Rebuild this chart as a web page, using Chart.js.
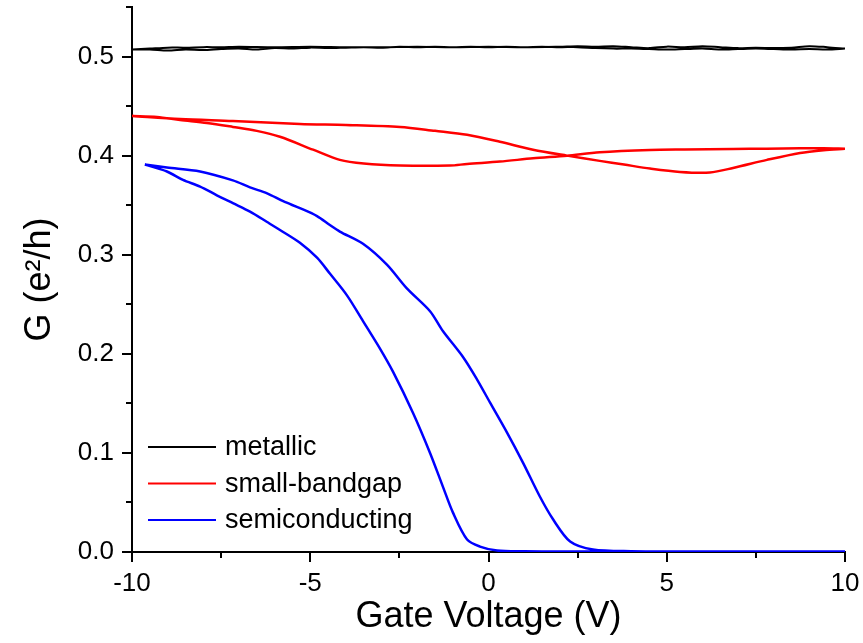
<!DOCTYPE html>
<html>
<head>
<meta charset="utf-8">
<script src="https://cdn.jsdelivr.net/npm/chart.js@4/dist/chart.umd.min.js"></script>
<style>
  html, body { margin: 0; padding: 0; background: #fff; }
  #wrap { width: 863px; height: 643px; }
</style>
</head>
<body>
<div id="wrap"><canvas id="gChart"></canvas></div>
<script>
// metallic: sweep up then back (two almost overlapping traces)
const metalUpX = [-10, -9.5, -9, -8.5, -8, -7.5, -7, -6.5, -6, -5.5, -5, -4.5, -4, -3.5, -3, -2.5, -2, -1.5, -1, -0.5, 0, 0.5, 1, 1.5, 2, 2.5, 3, 3.5, 4, 4.5, 5, 5.5, 6, 6.5, 7, 7.5, 8, 8.5, 9, 9.5, 10];
const metalUpG = [0.507, 0.507, 0.506, 0.507, 0.5065, 0.5075, 0.508, 0.507, 0.5085, 0.508, 0.509, 0.5085, 0.509, 0.5095, 0.509, 0.510, 0.5095, 0.510, 0.5095, 0.510, 0.5095, 0.510, 0.5095, 0.510, 0.5095, 0.5095, 0.5085, 0.508, 0.508, 0.5075, 0.507, 0.5075, 0.508, 0.507, 0.5075, 0.508, 0.5075, 0.507, 0.5075, 0.507, 0.508];
const metalDownX = [10, 9.5, 9, 8.5, 8, 7.5, 7, 6.5, 6, 5.5, 5, 4.5, 4, 3.5, 3, 2.5, 2, 1, 0, -1, -2, -3, -4, -5, -6, -7, -7.5, -8, -8.5, -9, -9.5, -10];
const metalDownG = [0.508, 0.5095, 0.5105, 0.509, 0.5085, 0.509, 0.5085, 0.5095, 0.5105, 0.5095, 0.510, 0.5085, 0.5095, 0.5105, 0.510, 0.5105, 0.510, 0.5095, 0.510, 0.5095, 0.510, 0.5095, 0.5095, 0.510, 0.5095, 0.510, 0.5095, 0.5095, 0.509, 0.509, 0.508, 0.507];

// small-bandgap
const smallUpX = [-10, -9.3, -8.65, -7.9, -7.17, -6.5, -5.85, -4.92, -4.17, -3.5, -2.48, -1.08, -0.6, 0.32, 1.25, 2.2, 3.12, 4.53, 5.5, 6.86, 7.8, 8.74, 9.4, 10];
const smallUpG = [0.440, 0.439, 0.436, 0.433, 0.429, 0.425, 0.419, 0.406, 0.3957, 0.392, 0.390, 0.390, 0.3916, 0.394, 0.3973, 0.400, 0.4034, 0.4057, 0.4062, 0.4067, 0.407, 0.4075, 0.4075, 0.407];
const smallDownX = [10, 9.4, 8.74, 7.81, 6.86, 6.21, 5.37, 4.53, 3.8, 3.12, 2.2, 1.25, 0.32, -0.6, -1.5, -2.48, -4, -5.29, -7.17, -8.65, -10];
const smallDownG = [0.407, 0.4055, 0.4027, 0.3957, 0.3876, 0.383, 0.3836, 0.387, 0.391, 0.3947, 0.400, 0.406, 0.414, 0.421, 0.425, 0.429, 0.431, 0.432, 0.435, 0.437, 0.440];

// semiconducting
const semiUpX = [-9.64, -9.02, -8.57, -8.09, -7.62, -7.17, -6.69, -6.21, -5.76, -5.29, -4.81, -4.45, -3.97, -3.52, -3.04, -2.68, -2.12, -1.64, -1.28, -1.0, -0.6, -0.24, 0.24, 1, 2, 4, 6, 8, 10];
const semiUpG = [0.391, 0.384, 0.3755, 0.3688, 0.360, 0.352, 0.3435, 0.333, 0.323, 0.312, 0.297, 0.281, 0.259, 0.233, 0.205, 0.182, 0.1406, 0.100, 0.066, 0.040, 0.0126, 0.0055, 0.0015, 0.0007, 0.0005, 0.0004, 0.0004, 0.0004, 0.0004];
const semiDownX = [10, 8, 6, 4, 2.93, 2.29, 1.81, 1.44, 0.97, 0.52, 0.04, -0.32, -0.72, -1.28, -1.64, -2.29, -2.85, -3.52, -4.17, -4.45, -4.81, -5.29, -5.76, -6.21, -6.69, -7.17, -8.09, -9.02, -9.64];
const semiDownG = [0.0004, 0.0004, 0.0005, 0.0008, 0.0025, 0.0106, 0.033, 0.056, 0.090, 0.1205, 0.151, 0.174, 0.197, 0.223, 0.243, 0.266, 0.29, 0.311, 0.3234, 0.330, 0.339, 0.347, 0.354, 0.362, 0.368, 0.375, 0.384, 0.388, 0.391];

const xTicks = [-10, -5, 0, 5, 10];
const xMinor = [-7.5, -2.5, 2.5, 7.5];
const yTicks = [0.0, 0.1, 0.2, 0.3, 0.4, 0.5];
const yMinor = [0.05, 0.15, 0.25, 0.35, 0.45, 0.55];

function loop(x1, y1, x2, y2) {
    const pts = x1.map((x, i) => ({ x: x, y: y1[i] }));
    return pts.concat(x2.map((x, i) => ({ x: x, y: y2[i] })));
}

const FONT = "'Liberation Sans', Arial, sans-serif";

// legend drawn inside the plot, bottom left
const insideLegend = {
    id: 'insideLegend',
    afterDraw(chart) {
        const ctx = chart.ctx;
        const a = chart.chartArea;
        ctx.save();
        ctx.font = '27px ' + FONT;
        ctx.textBaseline = 'middle';
        chart.data.datasets.forEach((ds, i) => {
            const y = 447 + i * 36.5;
            ctx.strokeStyle = ds.borderColor;
            ctx.lineWidth = 2;
            ctx.beginPath();
            ctx.moveTo(a.left + 16, y);
            ctx.lineTo(a.left + 84, y);
            ctx.stroke();
            ctx.fillStyle = '#000';
            ctx.fillText(ds.label, a.left + 93, y + 1);
        });
        ctx.restore();
    }
};

// minor ticks
const minorTicks = {
    id: 'minorTicks',
    afterDraw(chart) {
        const ctx = chart.ctx;
        const a = chart.chartArea;
        const xs = chart.scales.x, ys = chart.scales.y;
        ctx.save();
        ctx.strokeStyle = '#000';
        ctx.lineWidth = 2;
        ctx.beginPath();
        xMinor.forEach(v => {
            const px = Math.round(xs.getPixelForValue(v));
            ctx.moveTo(px, a.bottom);
            ctx.lineTo(px, a.bottom + 6);
        });
        yMinor.forEach(v => {
            const py = Math.round(ys.getPixelForValue(v));
            ctx.moveTo(a.left, py);
            ctx.lineTo(a.left - 6, py);
        });
        ctx.stroke();
        ctx.restore();
    }
};

new Chart(document.getElementById('gChart'), {
    type: 'scatter',
    data: {
        datasets: [
            {
                label: 'metallic',
                data: loop(metalUpX, metalUpG, metalDownX, metalDownG),
                borderColor: '#000000',
                borderWidth: 2
            },
            {
                label: 'small-bandgap',
                data: loop(smallUpX, smallUpG, smallDownX, smallDownG),
                borderColor: '#ff0000',
                borderWidth: 2.5
            },
            {
                label: 'semiconducting',
                data: loop(semiUpX, semiUpG, semiDownX, semiDownG),
                borderColor: '#0000ff',
                borderWidth: 2.5
            }
        ]
    },
    options: {
        responsive: true,
        maintainAspectRatio: false,
        animation: false,
        showLine: true,
        elements: {
            point: { radius: 0, hoverRadius: 0 },
            line: { tension: 0.3, fill: false }
        },
        layout: { padding: { top: 7, right: 18, left: 0, bottom: 0 } },
        plugins: {
            legend: { display: false },
            tooltip: { enabled: false }
        },
        scales: {
            x: {
                type: 'linear',
                min: -10,
                max: 10,
                afterBuildTicks: s => { s.ticks = xTicks.map(v => ({ value: v })); },
                afterFit: s => { s.height = 91; s.paddingLeft = 0; s.paddingRight = 0; },
                border: { display: true, color: '#000', width: 2 },
                grid: { display: true, drawOnChartArea: false, drawTicks: true, tickLength: 10, color: '#000', lineWidth: 2 },
                ticks: {
                    color: '#000',
                    padding: 6,
                    maxRotation: 0,
                    font: { family: FONT, size: 26 },
                    callback: v => String(v)
                },
                title: {
                    display: true,
                    text: 'Gate Voltage (V)',
                    color: '#000',
                    font: { family: FONT, size: 36 },
                    padding: { top: 0, bottom: 4 }
                }
            },
            y: {
                type: 'linear',
                min: 0,
                max: 0.55,
                afterBuildTicks: s => { s.ticks = yTicks.map(v => ({ value: v })); },
                afterFit: s => { s.width = 132; s.paddingTop = 0; s.paddingBottom = 0; },
                border: { display: true, color: '#000', width: 2 },
                grid: { display: true, drawOnChartArea: false, drawTicks: true, tickLength: 10, color: '#000', lineWidth: 2 },
                ticks: {
                    color: '#000',
                    padding: 8,
                    font: { family: FONT, size: 26 },
                    callback: v => Number(v).toFixed(1)
                },
                title: {
                    display: true,
                    text: 'G (e\u00b2/h)',
                    color: '#000',
                    font: { family: FONT, size: 36 },
                    padding: { top: 18, bottom: 0 }
                }
            }
        }
    },
    plugins: [insideLegend, minorTicks]
});
</script>
</body>
</html>
